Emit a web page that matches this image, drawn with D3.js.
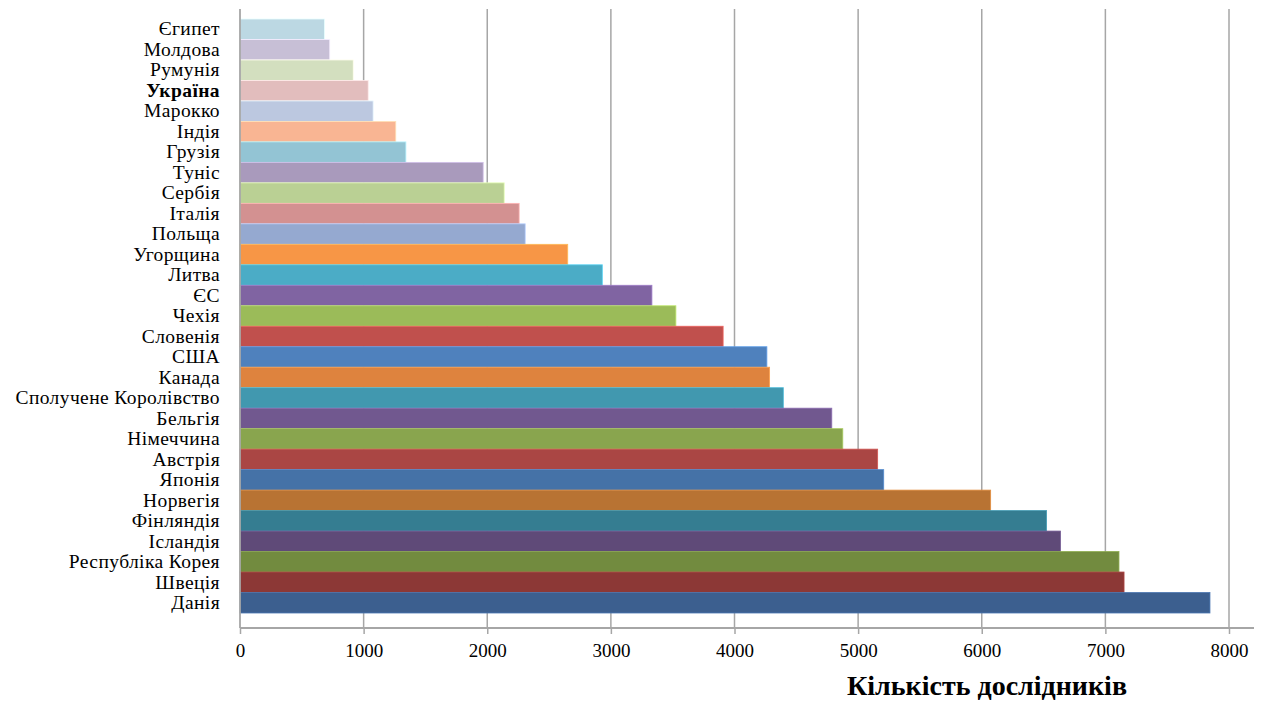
<!DOCTYPE html>
<html><head><meta charset="utf-8">
<script src="https://cdn.jsdelivr.net/npm/d3@7"></script>
<style>
body{margin:0;background:#fff;}
svg{display:block;}
text{font-family:"Liberation Serif","Times New Roman",serif;fill:#000;}
</style></head>
<body><svg id="c" width="1265" height="703"></svg>
<script>
const categories = ["Єгипет","Молдова","Румунія","Україна","Марокко","Індія","Грузія","Туніс","Сербія","Італія","Польща","Угорщина","Литва","ЄС","Чехія","Словенія","США","Канада","Сполучене Королівство","Бельгія","Німеччина","Австрія","Японія","Норвегія","Фінляндія","Ісландія","Республіка Корея","Швеція","Данія"];
const values = [684,726,916,1037,1077,1260,1342,1967,2137,2258,2307,2651,2931,3332,3526,3908,4262,4284,4395,4787,4876,5158,5207,6072,6524,6637,7110,7151,7846];
const colors = ["#bcd8e3","#c7bfd6","#d3dfbf","#e2bdbd","#bcc8e0","#f9b593","#93c4d4","#a99abc","#bad094","#d39191","#95a9d0","#f79646","#4bacc6","#8064a2","#9bbb59","#c0504d","#4f81bd","#de833e","#4198af","#71588f","#89a54e","#aa4644","#4572a7","#b87333","#357d91","#5f4a78","#728b3f","#8c3836","#3c5f8f"];
const xTicks = [0,1000,2000,3000,4000,5000,6000,7000,8000];
const xTitle = "Кількість дослідників";
const boldCategory = "Україна";

const svg = d3.select("#c");
const x = d3.scaleLinear().domain([0,8000]).range([240,1229]);
const y = d3.scaleBand().domain(categories).range([19,613]).padding(0);
const gridTop = 9, axisY = 628;

// gridlines
svg.append("g").selectAll("line").data(xTicks.slice(1)).join("line")
  .attr("x1",d=>x(d)).attr("x2",d=>x(d)).attr("y1",gridTop).attr("y2",axisY)
  .attr("stroke","#a6a6a6").attr("stroke-width",1.5);

// bars
svg.append("g").selectAll("rect").data(categories).join("rect")
  .attr("x",x(0)).attr("y",d=>y(d))
  .attr("width",(d,i)=>x(values[i])-x(0)).attr("height",y.bandwidth())
  .attr("fill",(d,i)=>colors[i])
  .attr("stroke",(d,i)=>d3.color(colors[i]).brighter(0.6)).attr("stroke-width",0.8);

// vertical axis line
svg.append("line").attr("x1",x(0)).attr("x2",x(0)).attr("y1",gridTop).attr("y2",axisY)
  .attr("stroke","#a6a6a6").attr("stroke-width",1.8);

// bottom axis
const xa = svg.append("g").attr("transform",`translate(0,${axisY})`)
  .call(d3.axisBottom(x).tickValues(xTicks).tickSize(6).tickPadding(10).tickFormat(d3.format("d")));
xa.select(".domain").remove();
xa.append("line").attr("x1",x(0)).attr("x2",1254).attr("y1",0).attr("y2",0)
  .attr("stroke","#a6a6a6").attr("stroke-width",1.8);
xa.selectAll(".tick line").attr("stroke","#a6a6a6").attr("stroke-width",1.5);
xa.selectAll(".tick text").style("font-size","19px").style("font-family","'Liberation Serif',serif").attr("fill","#000");

// left category labels
const ya = svg.append("g").attr("transform",`translate(${x(0)},0)`)
  .call(d3.axisLeft(y).tickSize(0).tickPadding(20));
ya.select(".domain").remove();
ya.selectAll(".tick text").style("font-size","19.5px").style("letter-spacing","0.4px")
  .style("font-family","'Liberation Serif',serif")
  .attr("fill","#000")
  .style("font-weight",d=>d===boldCategory?"bold":"normal");

// axis title
svg.append("text").attr("x",987).attr("y",695).attr("text-anchor","middle")
  .style("font-size","28px").style("font-weight","bold").text(xTitle);
</script></body></html>
